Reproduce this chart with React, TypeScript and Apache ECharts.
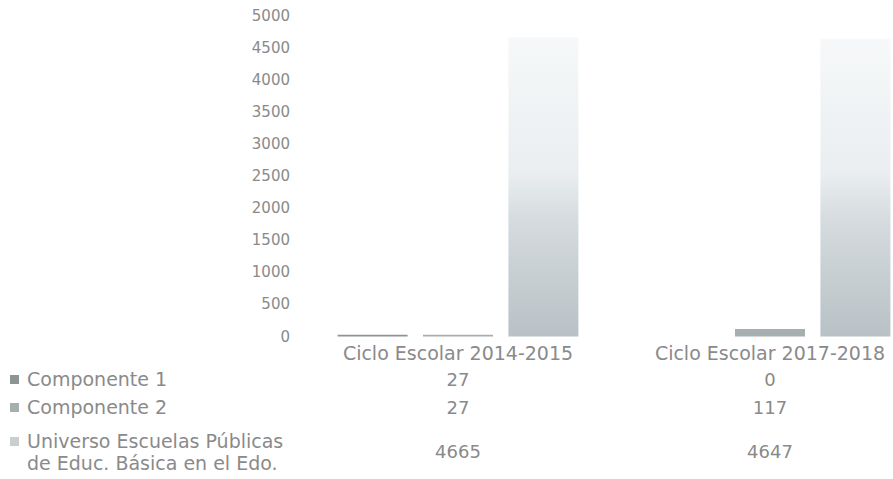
import React, { useEffect, useRef } from "react";
import * as echarts from "echarts";

const categories = ["Ciclo Escolar 2014-2015", "Ciclo Escolar 2017-2018"];
const componente1 = [27, 0];
const componente2 = [27, 117];
const universo = [4665, 4647];
const seriesNames = [
  "Componente 1",
  "Componente 2",
  "Universo Escuelas Públicas\nde Educ. Básica en el Edo.",
];
const yMin = 0;
const yMax = 5000;
const yInterval = 500;

const FONT = "DejaVu Sans";
const TEXT = "#8a8a8a";
const C1 = "#8e9492";
const C2 = "#a7aeb0";
const C3_LEG = "#c9ced1";

export default function App() {
  const ref = useRef<HTMLDivElement>(null);

  useEffect(() => {
    if (!ref.current) return;
    const chart = echarts.init(ref.current, undefined, { renderer: "svg" });

    const uniGradient = new echarts.graphic.LinearGradient(0, 0, 0, 1, [
      { offset: 0, color: "#f6f8f9" },
      { offset: 0.45, color: "#eaeef0" },
      { offset: 0.6, color: "#d6dcdf" },
      { offset: 1, color: "#b8c1c5" },
    ]);

    const rowY = [380, 408, 430];
    const legendColors = [C1, C2, C3_LEG];
    const graphics: any[] = [];
    seriesNames.forEach((name, i) => {
      const multi = name.includes("\n");
      graphics.push({
        type: "rect",
        left: 10,
        top: multi ? rowY[i] + 7 : rowY[i] - 5,
        shape: { width: 9, height: 9 },
        style: { fill: legendColors[i] },
      });
      graphics.push({
        type: "text",
        left: 27,
        top: multi ? rowY[i] : rowY[i] - 12,
        style: {
          text: name,
          fontFamily: FONT,
          fontSize: 19,
          lineHeight: 22,
          fill: TEXT,
        },
      });
    });

    const option: any = {
      animation: false,
      backgroundColor: "#ffffff",
      grid: { left: 302, width: 624, top: 16, height: 320.5 },
      xAxis: {
        type: "category",
        data: categories,
        axisLine: { show: false },
        axisTick: { show: false },
        axisLabel: {
          interval: 0,
          margin: 3,
          color: TEXT,
          fontFamily: FONT,
          fontSize: 19,
          formatter: (value: string, idx: number) =>
            `{h|${value}}\n{v|${componente1[idx]}}\n{v|${componente2[idx]}}\n{w|${universo[idx]}}`,
          rich: {
            h: { fontFamily: FONT, fontSize: 19, lineHeight: 26, color: TEXT },
            v: { fontFamily: FONT, fontSize: 18, lineHeight: 28, color: TEXT },
            w: { fontFamily: FONT, fontSize: 18, lineHeight: 60, color: TEXT },
          },
        },
      },
      yAxis: {
        type: "value",
        min: yMin,
        max: yMax,
        interval: yInterval,
        axisLine: { show: false },
        axisTick: { show: false },
        splitLine: { show: false },
        axisLabel: {
          margin: 12,
          color: TEXT,
          fontFamily: FONT,
          fontSize: 15,
          formatter: (v: number) => String(v),
        },
      },
      series: [
        {
          name: seriesNames[0],
          type: "bar",
          data: componente1,
          barWidth: 70,
          barGap: "22%",
          itemStyle: { color: C1 },
        },
        {
          name: seriesNames[1],
          type: "bar",
          data: componente2,
          barWidth: 70,
          barGap: "22%",
          itemStyle: { color: C2 },
        },
        {
          name: seriesNames[2],
          type: "bar",
          data: universo,
          barWidth: 70,
          barGap: "22%",
          itemStyle: { color: uniGradient },
        },
      ],
      graphic: graphics,
    };

    chart.setOption(option);
    return () => chart.dispose();
  }, []);

  return (
    <div
      style={{
        position: "fixed",
        left: 0,
        top: 0,
        width: 893,
        height: 479,
        overflow: "hidden",
        background: "#ffffff",
      }}
    >
      <div ref={ref} style={{ width: 950, height: 479 }} />
    </div>
  );
}
